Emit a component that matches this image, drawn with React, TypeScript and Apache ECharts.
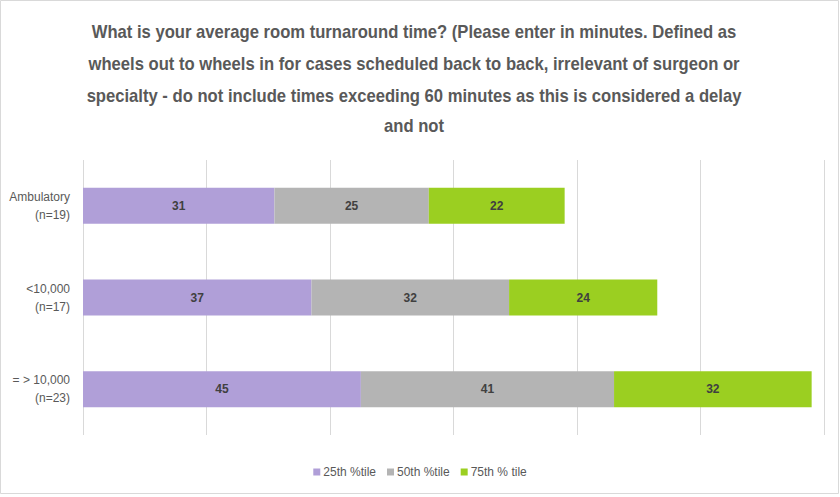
import React, { useEffect, useRef } from "react";
import * as echarts from "echarts";

const categories = ["Ambulatory\n(n=19)", "<10,000\n(n=17)", "= > 10,000\n(n=23)"];
const p25 = [31, 37, 45];
const p50 = [25, 32, 41];
const p75 = [22, 24, 32];
const seriesNames = ["25th %tile", "50th %tile", "75th % tile"];
const colors = ["#b09fd8", "#b4b4b4", "#9bcf21"];
const titleLines = [
  "What is your average room turnaround time? (Please enter in minutes. Defined as",
  "wheels out to wheels in for cases scheduled back to back, irrelevant of surgeon or",
  "specialty - do not include times exceeding 60 minutes as this is considered a delay",
  "and not",
];

const FONT = "'Liberation Sans', Arial, sans-serif";
const TITLE_SIZE = 19;

export default function App() {
  const ref = useRef<HTMLDivElement>(null);
  useEffect(() => {
    document.body.style.margin = "0";
    const chart = echarts.init(ref.current!, null, { renderer: "svg" });
    const values = [p25, p50, p75];

    let scale = 0.8;
    try {
      const ctx = document.createElement("canvas").getContext("2d");
      if (ctx) {
        ctx.font = `bold ${TITLE_SIZE}px 'Liberation Sans', Arial, sans-serif`;
        const w = ctx.measureText(titleLines[0]).width;
        if (w > 0) scale = 645 / w;
      }
    } catch (e) {}

    const lineY = [32, 64, 96, 126];
    const titleGraphics = titleLines.map((t, i) => ({
      type: "text",
      x: 414,
      y: lineY[i],
      scaleX: scale,
      silent: true,
      style: {
        text: t,
        fontFamily: FONT,
        fontSize: TITLE_SIZE,
        fontWeight: "bold",
        fill: "#595959",
        textAlign: "center",
        textVerticalAlign: "middle",
      },
    }));

    chart.setOption({
      animation: false,
      backgroundColor: "#ffffff",
      graphic: [
        {
          type: "rect",
          shape: { x: 0.5, y: 0.5, width: 838, height: 493 },
          style: { fill: "none", stroke: "#d9d9d9", lineWidth: 1 },
          silent: true,
        },
        ...titleGraphics,
      ],
      legend: {
        top: 461,
        left: "center",
        itemWidth: 7,
        itemHeight: 7,
        itemGap: 11,
        icon: "rect",
        textStyle: { fontFamily: FONT, fontSize: 12, color: "#595959", padding: [0, 0, 0, -2] },
        data: seriesNames,
      },
      grid: { left: 83, right: 16, top: 160, bottom: 62 },
      xAxis: {
        type: "value",
        min: 0,
        max: 120,
        interval: 20,
        axisLabel: { show: false },
        axisLine: { show: false },
        axisTick: { show: false },
        splitLine: { show: true, lineStyle: { color: "#d9d9d9", width: 1 } },
      },
      yAxis: {
        type: "category",
        inverse: true,
        data: categories,
        axisLine: { show: false },
        axisTick: { show: false },
        axisLabel: {
          fontFamily: FONT,
          fontSize: 12,
          color: "#595959",
          lineHeight: 18,
          margin: 13,
          align: "right",
        },
      },
      series: seriesNames.map((name, i) => ({
        name,
        type: "bar",
        stack: "total",
        barWidth: 36,
        data: values[i],
        itemStyle: { color: colors[i] },
        label: {
          show: true,
          position: "inside",
          fontFamily: FONT,
          fontSize: 12,
          fontWeight: "bold",
          color: "#404040",
        },
      })),
    });
    return () => chart.dispose();
  }, []);
  return <div ref={ref} style={{ width: 840, height: 497 }} />;
}
